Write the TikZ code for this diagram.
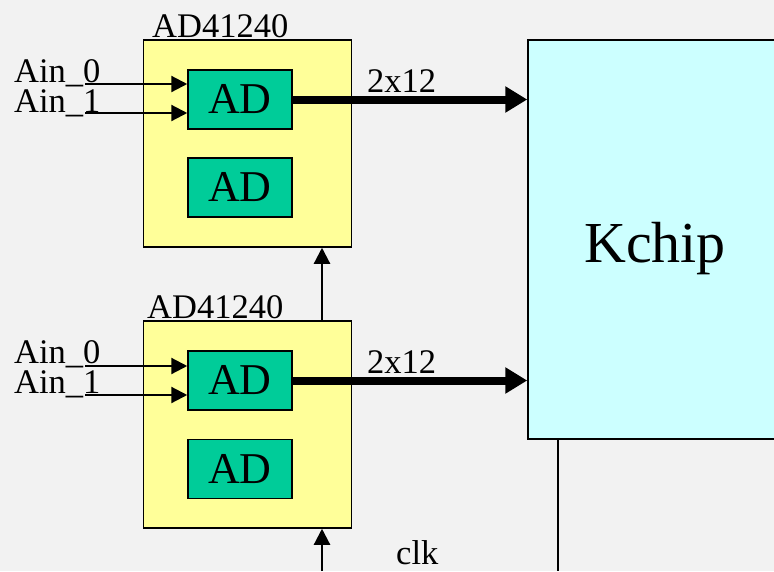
\documentclass[tikz,border=0pt]{standalone}
\usepackage{fontspec}
\setmainfont{Liberation Serif}
\usetikzlibrary{arrows.meta}
\definecolor{bgc}{HTML}{F2F2F2}
\definecolor{chipy}{HTML}{FFFF99}
\definecolor{adg}{HTML}{00CC99}
\definecolor{kc}{HTML}{CCFFFF}
\tikzset{
  chipbox/.style={draw=black, line width=1.5pt, fill=chipy, minimum width=208pt, minimum height=207pt, inner sep=0pt},
  adbox/.style={draw=black, line width=1.5pt, fill=adg, minimum width=104pt, minimum height=59pt, inner sep=0pt},
  kbox/.style={draw=black, line width=1.5pt, fill=kc, inner sep=0pt},
  lbl/.style={anchor=base west, inner sep=0pt, font=\fontsize{34.5}{38}\selectfont},
  adtxt/.style={font=\fontsize{44}{48}\selectfont},
  sigarrow/.style={line width=2.2pt, -{Triangle[length=16pt,width=16pt]}},
  bus/.style={line width=8pt, -{Triangle[length=22pt,width=25pt]}},
  plain/.style={line width=1.5pt}
}
\begin{document}
\begin{tikzpicture}[x=1pt,y=-1pt]
\fill[bgc] (0,0) rectangle (774,571);
\useasboundingbox (0,0) rectangle (774,571);
% Kchip
\node[kbox, minimum width=252pt, minimum height=399pt] (kchip) at (654,239.5) {};
\node[anchor=base, inner sep=0pt, font=\fontsize{58}{62}\selectfont] (klbl) at (655,262) {Kchip};
% top converter
\node[chipbox] (ytop) at (247.5,143.5) {};
\node[adbox, adtxt] (ad1t) at (240,99.5) {AD};
\node[adbox, adtxt] (ad2t) at (240,187.5) {AD};
\node[lbl] (nt) at (152,37) {AD41240};
\node[lbl] (a0t) at (14,82) {Ain\_0};
\node[lbl] (a1t) at (14,112) {Ain\_1};
\node[lbl] (bt) at (367,92) {2x12};
% bottom converter
\node[chipbox] (ybot) at (247.5,424.5) {};
\node[adbox, adtxt] (ad1b) at (240,380.5) {AD};
\node[adbox, adtxt] (ad2b) at (240,469) {AD};
\node[lbl] (nb) at (147,318) {AD41240};
\node[lbl] (a0b) at (14,363) {Ain\_0};
\node[lbl] (a1b) at (14,393) {Ain\_1};
\node[lbl] (bb) at (367,373) {2x12};
\node[lbl] (clk) at (396,564) {clk};
% free ends
\coordinate (i0t) at (85,84);
\coordinate (i1t) at (85,113);
\coordinate (i0b) at (85,366);
\coordinate (i1b) at (85,395);
\coordinate (clkx) at (322,571);
\coordinate (kout) at (558,571);
% connectors
\draw[sigarrow] (i0t) -- (ad1t.west |- i0t);
\draw[sigarrow] (i1t) -- (ad1t.west |- i1t);
\draw[sigarrow] (i0b) -- (ad1b.west |- i0b);
\draw[sigarrow] (i1b) -- (ad1b.west |- i1b);
\draw[bus] (ad1t.east) -- (ad1t.east -| kchip.west);
\draw[bus] (ad1b.east) -- (ad1b.east -| kchip.west);
\draw[sigarrow] (ybot.north -| clkx) -- (ytop.south -| clkx);
\draw[sigarrow] (clkx) -- (ybot.south -| clkx);
\draw[plain] (kchip.south -| kout) -- (kout);
\end{tikzpicture}
\end{document}
